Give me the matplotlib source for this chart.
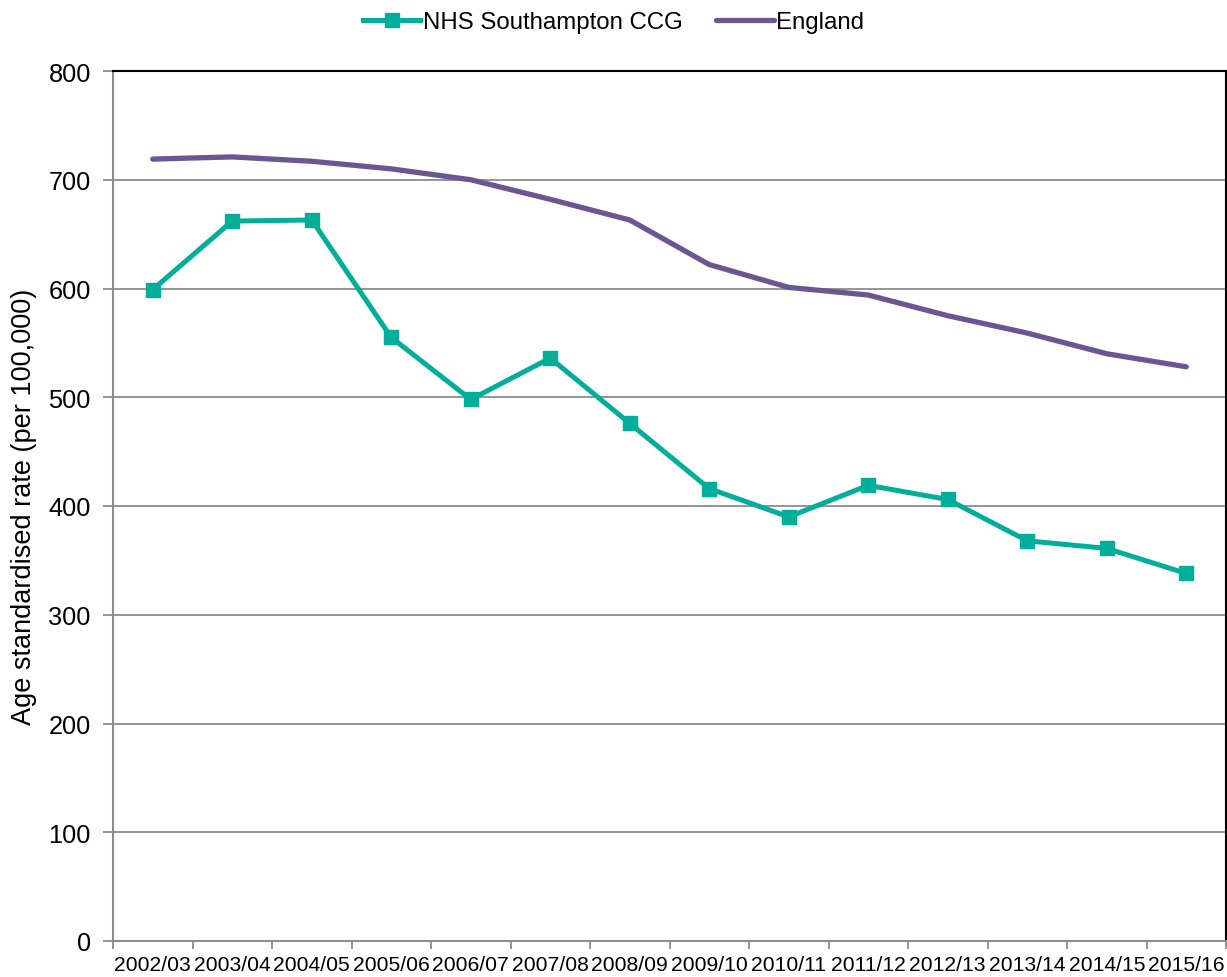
import matplotlib.pyplot as plt
import numpy as np

plt.rcParams['font.family'] = ['Liberation Sans', 'DejaVu Sans']

years = ['2002/03', '2003/04', '2004/05', '2005/06', '2006/07', '2007/08', '2008/09',
         '2009/10', '2010/11', '2011/12', '2012/13', '2013/14', '2014/15', '2015/16']
southampton = [599, 662, 663, 555, 498, 536, 476, 416, 390, 419, 406, 368, 361, 338]
england = [719, 721, 717, 710, 700, 682, 663, 622, 601, 594, 575, 559, 540, 528]

teal = '#00AE9A'
purple = '#6B5693'
grey = '#8C8C8C'

fig = plt.figure(figsize=(12.27, 9.78), dpi=100)
ax = fig.add_axes([113 / 1227, 36 / 978, 1113 / 1227, 870 / 978])

x = np.arange(len(years))
ax.plot(x, southampton, color=teal, lw=3.6, marker='s', ms=10.5, label='NHS Southampton CCG')
ax.plot(x, england, color=purple, lw=3.8, solid_capstyle='round', label='England')

ax.set_xlim(-0.5, len(years) - 0.5)
ax.set_ylim(0, 800)
ax.set_yticks(range(0, 801, 100))
ax.yaxis.grid(True, color=grey, lw=1.3)
ax.set_axisbelow(True)

ax.set_xticks(x)
ax.set_xticklabels(years, fontsize=15.2)
ax.set_xticks(np.arange(-0.5, len(years)), minor=True)
ax.tick_params(axis='x', which='major', length=0, pad=10)
ax.tick_params(axis='x', which='minor', length=6, color=grey, width=1.3)
ax.tick_params(axis='y', labelsize=18.3, length=7, color=grey, width=1.3, pad=9)

for side in ['left', 'bottom']:
    ax.spines[side].set_color(grey)
    ax.spines[side].set_linewidth(1.5)
for side in ['top', 'right']:
    ax.spines[side].set_color('black')
    ax.spines[side].set_linewidth(1.5)

ax.set_ylabel('Age standardised rate (per 100,000)', fontsize=19.5, labelpad=8)

fig.legend(loc='upper center', bbox_to_anchor=(0.5, 1.0), ncol=2, frameon=False,
           fontsize=17.3, handlelength=2.4, columnspacing=1.4, handletextpad=0.1,
           borderaxespad=0.1)

fig.savefig('out.png', dpi=100)
